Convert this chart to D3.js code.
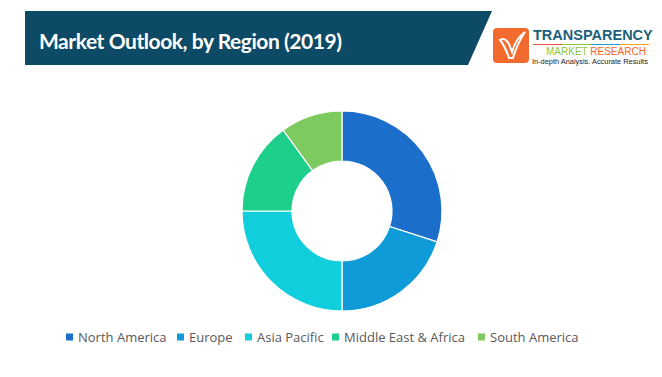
<!DOCTYPE html>
<html>
<head>
<meta charset="utf-8">
<script src="https://cdn.jsdelivr.net/npm/d3@7"></script>
<style>
body { margin: 0; background: #fff; }
svg { display: block; font-family: "Open Sans", sans-serif; }
</style>
</head>
<body>
<svg id="chart" width="662" height="377"></svg>
<script>
var regions = ["North America", "Europe", "Asia Pacific", "Middle East & Africa", "South America"];
var shares = [30, 20, 25, 15, 10];
var colors = ["#1b6ec9", "#0e9bd8", "#10cedb", "#1ecf8c", "#7dca60"];
var title = "Market Outlook, by Region (2019)";

var svg = d3.select("#chart");

// header banner
svg.append("path")
    .attr("d", "M25,11 L492,11 L468,65 L25,65 Z")
    .attr("fill", "#0d4a66");
svg.append("text")
    .attr("x", 39)
    .attr("y", 49)
    .attr("fill", "#fff")
    .style("font-family", "Lato, sans-serif")
    .style("font-weight", "bold")
    .style("font-size", "21px")
    .attr("textLength", 303)
    .text(title);

// logo
var logo = svg.append("g").style("font-family", "'Liberation Sans', sans-serif");
logo.append("rect")
    .attr("x", 493).attr("y", 28)
    .attr("width", 36).attr("height", 35)
    .attr("rx", 4)
    .attr("fill", "#f26a2e");
logo.append("path")
    .attr("d", "M500,40 Q505,37 509,44 L512,52 Q516,38 525,32 Q517,44 513,58 L509,58 Q505,46 500,40 Z")
    .attr("fill", "none")
    .attr("stroke", "#fff")
    .attr("stroke-width", 2);
logo.append("text")
    .attr("x", 533).attr("y", 40)
    .attr("fill", "#1b5f7a")
    .style("font-weight", "bold")
    .style("font-size", "14.5px")
    .text("TRANSPARENCY");
var lineCols = ["#e94e3c", "#8cc63f", "#1b9ad6", "#f7a21b"];
lineCols.forEach(function(c, i) {
    logo.append("rect")
        .attr("x", 533 + i * 29).attr("y", 44)
        .attr("width", 29).attr("height", 1)
        .attr("fill", c);
});
var mr = logo.append("text")
    .attr("x", 546).attr("y", 54.5)
    .style("font-size", "10px");
mr.append("tspan").attr("fill", "#8cc63f").text("MARKET ");
mr.append("tspan").attr("fill", "#f26522").text("RESEARCH");
logo.append("text")
    .attr("x", 532).attr("y", 64)
    .attr("fill", "#222")
    .style("font-size", "7.4px")
    .text("In-depth Analysis. Accurate Results");

// donut
var cx = 342, cy = 211, rOuter = 100, rInner = 50;
var pie = d3.pie().sort(null).value(function(d) { return d; });
var arc = d3.arc().innerRadius(rInner).outerRadius(rOuter);

var g = svg.append("g").attr("transform", "translate(" + cx + "," + cy + ")");
g.selectAll("path.slice")
    .data(pie(shares))
    .enter().append("path")
    .attr("class", "slice")
    .attr("d", arc)
    .attr("fill", function(d, i) { return colors[i]; })
    .attr("stroke", "#fff")
    .attr("stroke-width", 1.2);

// legend
var legendX = [66, 177, 245, 332, 478];
var lg = svg.append("g");
regions.forEach(function(name, i) {
    lg.append("rect")
        .attr("x", legendX[i]).attr("y", 333.5)
        .attr("width", 7).attr("height", 7)
        .attr("fill", colors[i]);
    lg.append("text")
        .attr("x", legendX[i] + 12).attr("y", 341.5)
        .attr("fill", "#595959")
        .style("font-size", "13px")
        .text(name);
});
</script>
</body>
</html>
